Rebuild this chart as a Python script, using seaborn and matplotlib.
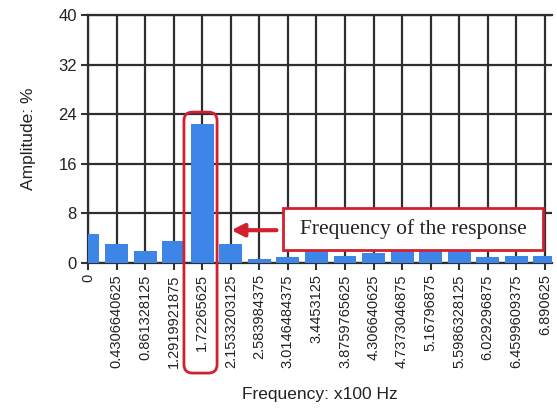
import matplotlib
matplotlib.use("Agg")
import matplotlib.pyplot as plt
import seaborn as sns
import pandas as pd
from matplotlib.patches import FancyBboxPatch, Rectangle
from matplotlib.transforms import blended_transform_factory

# Spectrum values
freq_labels = ["0", "0.4306640625", "0.861328125", "1.2919921875", "1.72265625",
               "2.1533203125", "2.583984375", "3.0146484375", "3.4453125",
               "3.8759765625", "4.306640625", "4.7373046875", "5.16796875",
               "5.5986328125", "6.029296875", "6.4599609375", "6.890625"]
amplitude = [4.7, 3.1, 1.9, 3.6, 22.4, 3.1, 0.6, 1.0, 1.9,
             1.2, 1.7, 1.9, 2.05, 2.05, 0.9, 1.2, 1.2]
y_ticks = [0, 8, 16, 24, 32, 40]

df = pd.DataFrame({"freq": freq_labels, "amp": amplitude})

sns.set_style("white")
plt.rcParams["font.family"] = ["Liberation Sans", "DejaVu Sans"]

fig = plt.figure(figsize=(5.57, 4.11), dpi=100)
ax = fig.add_axes([0.158, 0.36, 0.833, 0.603])

sns.barplot(data=df, x="freq", y="amp", order=freq_labels, color="#3d86e8",
            saturation=1, width=0.8, linewidth=0, ax=ax, zorder=3)

ax.set_xlim(0, 16.25)
ax.set_ylim(0, 40)
ax.set_yticks(y_ticks)
ax.set_xticks(range(len(freq_labels)))
ax.set_xticklabels(freq_labels, rotation=90, fontsize=10.5, color="#222222")
ax.tick_params(axis="y", labelsize=12, labelcolor="#222222")
ax.tick_params(axis="both", direction="out", length=5, width=1.5, color="#333333",
               bottom=True, left=True, pad=3)

ax.grid(True, color="#2e2e2e", linewidth=1.6, zorder=0)
ax.set_axisbelow(True)
for side in ["left", "bottom", "top"]:
    ax.spines[side].set_color("#2e2e2e")
    ax.spines[side].set_linewidth(1.6)
ax.spines["right"].set_visible(False)

ax.set_xlabel("Frequency: x100 Hz", fontsize=12.5, color="#222222", labelpad=14)
ax.set_ylabel("Amplitude: %", fontsize=12.5, color="#222222", labelpad=16)

# Highlight of the peak bar and its tick label
red = "#d32030"
peak = amplitude.index(max(amplitude))
trans = blended_transform_factory(ax.transData, ax.transAxes)
ax.add_patch(FancyBboxPatch((peak - 0.64, -0.444), 1.16, 1.053,
                            boxstyle="round,pad=0,rounding_size=0.3",
                            mutation_aspect=0.115,
                            transform=trans, fill=False, edgecolor=red,
                            linewidth=2, clip_on=False, zorder=5))

# Arrow pointing at the response
ax.annotate("", xy=(peak + 1.02, 5.3), xytext=(peak + 2.6, 5.3),
            arrowprops=dict(arrowstyle="-|>,head_length=0.75,head_width=0.38",
                            color=red, lw=3, shrinkA=0, shrinkB=0),
            zorder=6)

ax.add_patch(Rectangle((6.83, 2.1), 9.1, 6.75, facecolor="white", edgecolor=red,
                       linewidth=2, zorder=6, clip_on=False))
ax.text(11.38, 5.48, "Frequency of the response", ha="center", va="center",
        family=["Liberation Serif", "DejaVu Serif"], fontsize=15.5, color="#222222",
        zorder=7)

fig.savefig("out.png", dpi=100)
